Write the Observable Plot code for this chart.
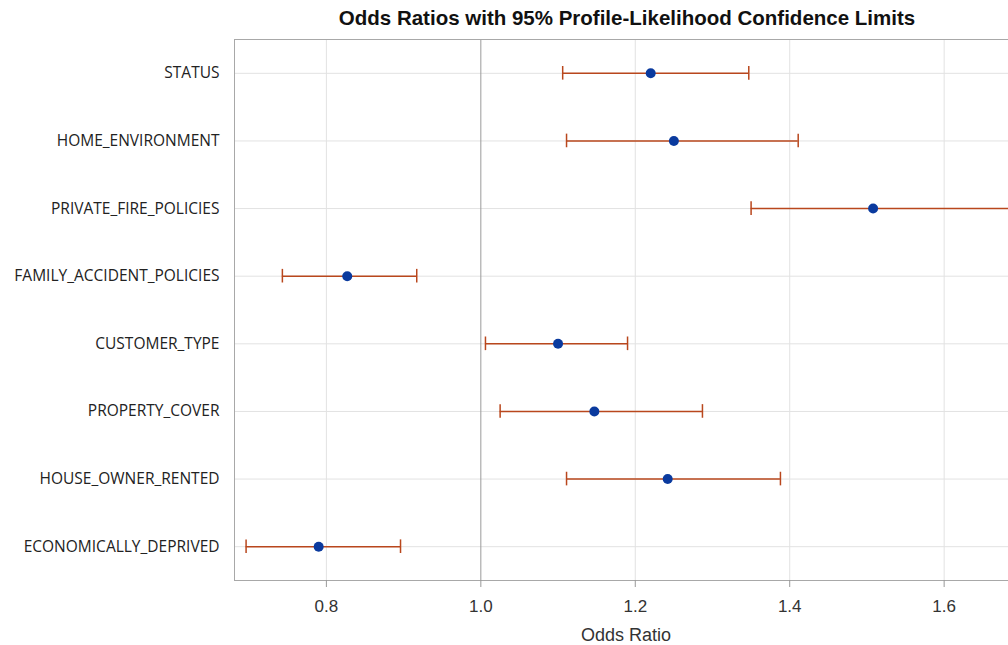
<!DOCTYPE html>
<html>
<head>
<meta charset="utf-8">
<script src="https://cdn.jsdelivr.net/npm/d3@7"></script>
<script src="https://cdn.jsdelivr.net/npm/@observablehq/plot@0.6"></script>
<style>
  html, body { margin: 0; padding: 0; background: #fff; overflow: hidden; }
  #wrap { width: 1020px; }
  #title { height: 38px; line-height: 36px; box-sizing: border-box; padding-left: 234px; text-align: center;
           font-family: "Liberation Sans", Arial, sans-serif; font-weight: bold; font-size: 20.5px; color: #111; }
  svg { display: block; }
</style>
</head>
<body>
<div id="wrap">
  <div id="title">Odds Ratios with 95% Profile-Likelihood Confidence Limits</div>
  <div id="chart"></div>
</div>
<script>
const labels = ["STATUS", "HOME_ENVIRONMENT", "PRIVATE_FIRE_POLICIES", "FAMILY_ACCIDENT_POLICIES",
                "CUSTOMER_TYPE", "PROPERTY_COVER", "HOUSE_OWNER_RENTED", "ECONOMICALLY_DEPRIVED"];
const estimates = [1.220, 1.250, 1.508, 0.827, 1.100, 1.147, 1.242, 0.790];
const lower = [1.106, 1.111, 1.350, 0.743, 1.006, 1.025, 1.111, 0.696];
const upper = [1.347, 1.411, 1.690, 0.917, 1.190, 1.287, 1.388, 0.896];
const xTicks = [0.8, 1.0, 1.2, 1.4, 1.6];
const xLabel = "Odds Ratio";

const data = labels.map((label, i) => ({label, est: estimates[i], lo: lower[i], hi: upper[i]}));
const barColor = "#b9471d";

const chart = Plot.plot({
  width: 1020,
  height: 607,
  marginLeft: 234,
  marginRight: 3,
  marginTop: 1,
  marginBottom: 65,
  x: {domain: [0.681, 1.695]},
  y: {domain: labels, type: "band", padding: 0, round: false},
  style: {background: "#fff"},
  marks: [
    Plot.gridX(xTicks.filter(d => d !== 1), {stroke: "#e2e2e2", strokeOpacity: 1}),
    Plot.gridY(labels, {stroke: "#e2e2e2", strokeOpacity: 1}),
    Plot.ruleX([1], {stroke: "#9a9a9a"}),
    Plot.frame({stroke: "#a8a8a8"}),
    Plot.ruleY(data, {y: "label", x1: "lo", x2: "hi", stroke: barColor, strokeWidth: 1.5}),
    Plot.tickX(data, {x: "lo", y: "label", stroke: barColor, strokeWidth: 1.5, insetTop: 27, insetBottom: 27}),
    Plot.tickX(data, {x: "hi", y: "label", stroke: barColor, strokeWidth: 1.5, insetTop: 27, insetBottom: 27}),
    Plot.dot(data, {x: "est", y: "label", r: 5, fill: "#0a3a9e", stroke: "none"}),
    Plot.axisX(xTicks, {tickFormat: d3.format(".1f"), tickSize: 7, tickPadding: 12, stroke: "#999", fill: "#333",
                        fontSize: 17, fontFamily: "Liberation Sans, Arial, sans-serif", label: null}),
    Plot.axisY({tickSize: 0, tickPadding: 15, label: null, fill: "#222", fontSize: 15.5,
                fontFamily: "Open Sans, sans-serif"}),
    Plot.text([xLabel], {frameAnchor: "bottom", dy: 60, fontSize: 18, fill: "#333",
                         fontFamily: "Liberation Sans, Arial, sans-serif"})
  ]
});
document.getElementById("chart").appendChild(chart);
</script>
</body>
</html>
